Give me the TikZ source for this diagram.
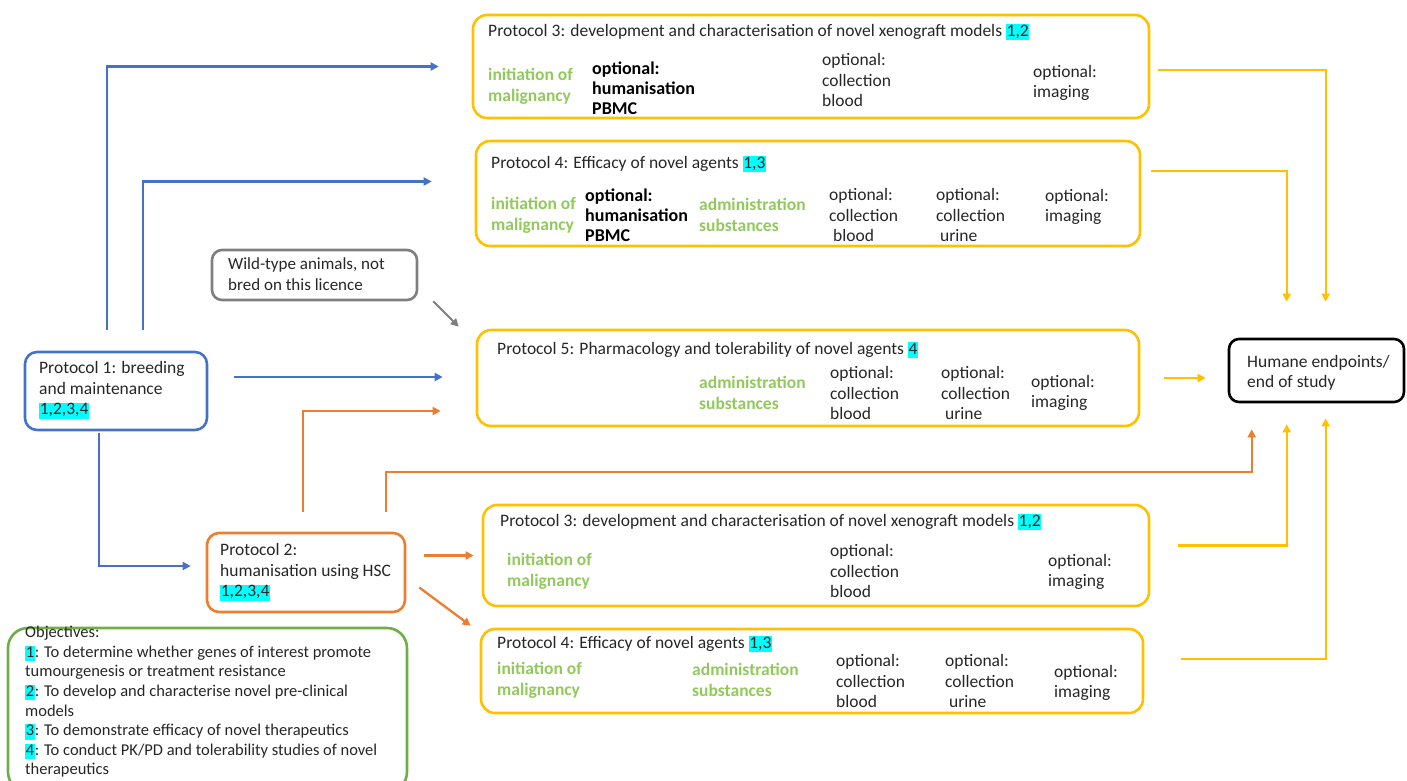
\documentclass[tikz,border=0pt]{standalone}
\usepackage{fontspec}
\setmainfont{Carlito}
\usetikzlibrary{arrows.meta,calc}
\definecolor{cblue}{HTML}{4472C4}
\definecolor{corange}{HTML}{ED7D31}
\definecolor{cyell}{HTML}{FFC000}
\definecolor{cgreen}{HTML}{70AD47}
\definecolor{tgreen}{HTML}{92C95C}
\definecolor{cgray}{HTML}{7F7F7F}
\definecolor{hl}{HTML}{00FFFF}
\definecolor{txt}{HTML}{262626}
\newcommand\hilite[1]{{\setlength{\fboxsep}{0.6pt}\colorbox{hl}{\rule[-0.2em]{0pt}{0.78em}#1}}}
\begin{document}
\begin{tikzpicture}[x=1pt,y=-1pt,
  box/.style={draw, line width=2.6pt, rounded corners=14pt, inner sep=0pt},
  ybox/.style={box, draw=cyell},
  tx/.style={font=\fontsize{17.5}{20.5}\selectfont, text=txt, inner sep=0pt, anchor=west, align=left},
  gr/.style={tx, text=tgreen, font=\fontsize{17.5}{21}\selectfont\bfseries},
  bd/.style={tx, text=black, font=\fontsize{18}{20}\selectfont\bfseries},
  arr/.style={-{Triangle[length=8pt,width=8pt]}, line width=2.3pt},
]
\useasboundingbox (0,0) rectangle (1407,780);

% boxes
\node[ybox, minimum width=676pt, minimum height=103pt] (p3a) at (811,66.5) {};
\node[ybox, minimum width=664pt, minimum height=105pt] (p4a) at (808,193.5) {};
\node[box, draw=cgray, rounded corners=10pt, minimum width=205pt, minimum height=50pt] (wild) at (314.5,275) {};
\node[ybox, minimum width=662pt, minimum height=96pt] (p5) at (808,378) {};
\node[box, draw=black, rounded corners=10pt, minimum width=175pt, minimum height=63pt] (hum) at (1316.5,370.5) {};
\node[box, draw=cblue, rounded corners=12pt, minimum width=182pt, minimum height=78pt] (p1) at (116,391) {};
\node[box, draw=corange, rounded corners=12pt, minimum width=198pt, minimum height=79pt] (p2) at (306,572.5) {};
\node[ybox, minimum width=666pt, minimum height=101pt] (p3b) at (816,555.5) {};
\node[ybox, minimum width=662pt, minimum height=84pt] (p4b) at (812,671) {};
\node[box, draw=cgreen, rounded corners=20pt, minimum width=399pt, minimum height=164pt] (obj) at (207.5,710) {};

% Protocol 3 (top)
\node[tx] (p3at) at (488,32) {Protocol 3: development and characterisation of novel xenograft models \hilite{1,2}};
\node[gr] (p3ag) at (488,86) {initiation of\\malignancy};
\node[bd] (p3ab) at (592,88) {optional:\\humanisation\\PBMC};
\node[tx] (p3ac) at (822,80) {optional:\\collection\\blood};
\node[tx] (p3ai) at (1033,83) {optional:\\imaging};

% Protocol 4 (top)
\node[tx] (p4at) at (491,164) {Protocol 4: Efficacy of novel agents \hilite{1,3}};
\node[gr] (p4ag) at (491,215) {initiation of\\malignancy};
\node[bd] (p4ab) at (585,215) {optional:\\humanisation\\PBMC};
\node[gr] (p4aa) at (699,215) {administration\\substances};
\node[tx] (p4ac) at (829,215) {optional:\\collection\\\ blood};
\node[tx] (p4au) at (936,215) {optional:\\collection\\\ urine};
\node[tx] (p4ai) at (1045,207) {optional:\\imaging};

% Wild-type
\node[tx, font=\fontsize{17}{20.5}\selectfont] (wildt) at (228,274) {Wild-type animals, not\\bred on this licence};

% Protocol 5
\node[tx] (p5t) at (497,350) {Protocol 5: Pharmacology and tolerability of novel agents \hilite{4}};
\node[gr] (p5a) at (699,393) {administration\\substances};
\node[tx] (p5c) at (830,393) {optional:\\collection\\blood};
\node[tx] (p5u) at (941,393) {optional:\\collection\\\ urine};
\node[tx] (p5i) at (1031,393) {optional:\\imaging};

% Humane endpoints
\node[tx] (humt) at (1247,373) {Humane endpoints/\\end of study};

% Protocol 1, 2
\node[tx] (p1t) at (39,390) {Protocol 1: breeding\\and maintenance\\\hilite{1,2,3,4}};
\node[tx] (p2t) at (220,572) {Protocol 2:\\humanisation using HSC\\\hilite{1,2,3,4}};

% Protocol 3 (bottom)
\node[tx] (p3bt) at (500,522) {Protocol 3: development and characterisation of novel xenograft models \hilite{1,2}};
\node[gr] (p3bg) at (507,571) {initiation of\\malignancy};
\node[tx] (p3bc) at (830,571) {optional:\\collection\\blood};
\node[tx] (p3bi) at (1048,572) {optional:\\imaging};

% Protocol 4 (bottom)
\node[tx] (p4bt) at (497,644) {Protocol 4: Efficacy of novel agents \hilite{1,3}};
\node[gr] (p4bg) at (497,680) {initiation of\\malignancy};
\node[gr] (p4ba) at (692,680) {administration\\substances};
\node[tx] (p4bc) at (836,681) {optional:\\collection\\blood};
\node[tx] (p4bu) at (945,681) {optional:\\collection\\\ urine};
\node[tx] (p4bi) at (1054,683) {optional:\\imaging};

% Objectives
\node[tx, anchor=north west, font=\fontsize{16.5}{19.6}\selectfont] (objt) at (25,626) {Objectives:\\
\hilite{1}: To determine whether genes of interest promote\\
tumourgenesis or treatment resistance\\
\hilite{2}: To develop and characterise novel pre-clinical\\
models\\
\hilite{3}: To demonstrate efficacy of novel therapeutics\\
\hilite{4}: To conduct PK/PD and tolerability studies of novel\\
therapeutics};

% blue arrows
\draw[arr, cblue] ($(p1.north west)+(83,-21)$) |- ($(p3a.west)+(-33,0)$);
\draw[arr, cblue] ($(p1.north west)+(119,-21)$) |- ($(p4a.west)+(-43,-12)$);
\draw[arr, cblue] ($(p1.east)+(26,-14)$) -- ($(p5.west)+(-33,-1)$);
\draw[arr, cblue] ($(p1.south west)+(75,2)$) |- ($(p2.west)+(-15,-6.5)$);

% orange arrows
\draw[arr, corange] ($(p2.north west)+(97,-20)$) |- ($(p5.west)+(-35,33)$);
\draw[arr, corange] ($(p2.north west)+(180,-20)$) -- ++(0,-40) -| ($(hum.south west)+(24,26)$);
\draw[arr, corange] ($(p2.east)+(18,-17)$) -- ($(p3b.west)+(-8,0)$);
\draw[arr, corange] ($(p2.east)+(13,15)$) -- ($(p4b.north west)+(-9,-2)$);

% yellow arrows
\draw[arr, cyell] ($(p3a.east)+(8,3.5)$) -| ($(hum.north west)+(98,-36)$);
\draw[arr, cyell] ($(p4a.east)+(10,-22.5)$) -| ($(hum.north west)+(59,-36)$);
\draw[arr, cyell] ($(p5.east)+(24,0)$) -- ($(hum.west)+(-22,7.5)$);
\draw[arr, cyell] ($(p3b.east)+(28,-10)$) -| ($(hum.south west)+(59,21)$);
\draw[arr, cyell] ($(p4b.east)+(37,-12)$) -| ($(hum.south west)+(98,15)$);

% gray arrow
\draw[arr, cgray, line width=2pt] ($(wild.south east)+(15,0)$) -- ($(p5.north west)+(-17,-2)$);
\end{tikzpicture}
\end{document}
